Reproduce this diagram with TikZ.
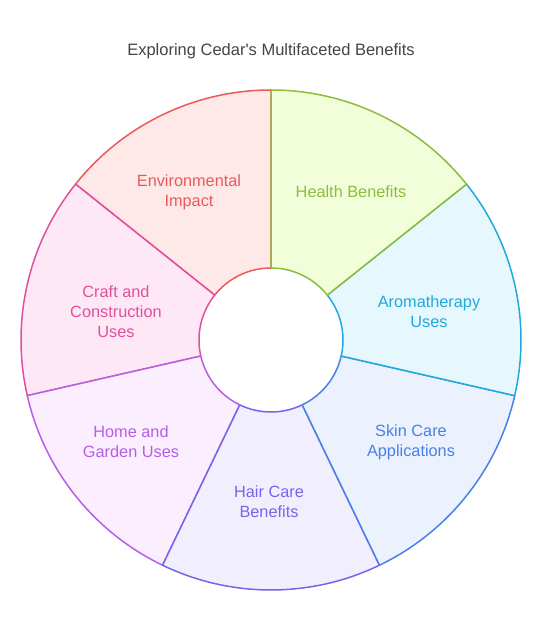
\documentclass[tikz,border=0pt]{standalone}
\usepackage{fontspec}
\setmainfont{Liberation Sans}
\definecolor{hbS}{HTML}{8CBE3C}\definecolor{hbF}{HTML}{F2FDDA}
\definecolor{arS}{HTML}{22A9DC}\definecolor{arF}{HTML}{E6F8FE}
\definecolor{skS}{HTML}{4A80E6}\definecolor{skF}{HTML}{EBF2FE}
\definecolor{haS}{HTML}{7A63EA}\definecolor{haF}{HTML}{F1EFFE}
\definecolor{hoS}{HTML}{B65FE6}\definecolor{hoF}{HTML}{FBEEFE}
\definecolor{crS}{HTML}{E0509E}\definecolor{crF}{HTML}{FEE8F5}
\definecolor{enS}{HTML}{EB5A5A}\definecolor{enF}{HTML}{FEE8E8}
\definecolor{titleC}{HTML}{444444}
\tikzset{
  sector/.style={line width=1.5pt, line join=round},
  lbl/.style={font=\fontsize{16.3}{20}\selectfont, align=center, inner sep=0pt},
}
\newcommand{\sect}[4]{% start, end, stroke, fill
  \path[sector, draw=#3, fill=#4] (C) ++(#1:72pt) -- ++(#1:178pt)
    arc[start angle=#1, end angle=#2, radius=250pt]
    -- ($(C)+(#2:72pt)$)
    arc[start angle=#2, end angle=#1, radius=72pt] -- cycle;}
\usetikzlibrary{calc}
\begin{document}
\begin{tikzpicture}[x=1pt,y=1pt]
\useasboundingbox (0,0) rectangle (542,632);
\coordinate (C) at (271,292);
\sect{141.4286}{90}{enS}{enF}
\sect{192.8571}{141.4286}{crS}{crF}
\sect{244.2857}{192.8571}{hoS}{hoF}
\sect{295.7143}{244.2857}{haS}{haF}
\sect{347.1429}{295.7143}{skS}{skF}
\sect{398.5714}{347.1429}{arS}{arF}
\sect{90}{38.5714}{hbS}{hbF}
\node[font=\fontsize{16.5}{18}\selectfont, text=titleC, inner sep=0pt] (title) at (271,581) {Exploring Cedar\textquotesingle s Multifaceted Benefits};
\node[lbl, text=hbS] (hb) at (351,440) {Health Benefits};
\node[lbl, text=arS] (ar) at (429,320) {Aromatherapy\\Uses};
\node[lbl, text=skS] (sk) at (411,190) {Skin Care\\Applications};
\node[lbl, text=haS] (ha) at (269,130) {Hair Care\\Benefits};
\node[lbl, text=hoS] (ho) at (131,190) {Home and\\Garden Uses};
\node[lbl, text=crS] (cr) at (116,320) {Craft and\\Construction\\Uses};
\node[lbl, text=enS] (en) at (189,440) {Environmental\\Impact};
\end{tikzpicture}
\end{document}
